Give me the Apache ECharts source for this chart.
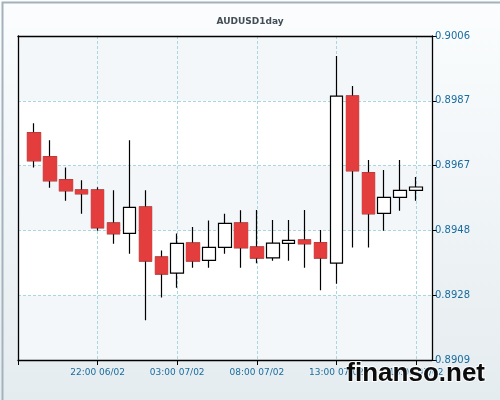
<!DOCTYPE html>
<html>
<head>
<meta charset="utf-8">
<script src="https://cdn.jsdelivr.net/npm/echarts@6/dist/echarts.min.js"></script>
<style>
  * { margin: 0; padding: 0; }
  #chart-container { width: 500px; height: 400px; }
</style>
</head>
<body>
<div id="chart-container"></div>
<script>
  var categories = [
    '17:00 06/02', '18:00 06/02', '19:00 06/02', '20:00 06/02', '21:00 06/02', '22:00 06/02', '23:00 06/02',
    '00:00 07/02', '01:00 07/02', '02:00 07/02', '03:00 07/02', '04:00 07/02', '05:00 07/02', '06:00 07/02',
    '07:00 07/02', '08:00 07/02', '09:00 07/02', '10:00 07/02', '11:00 07/02', '12:00 07/02', '13:00 07/02',
    '14:00 07/02', '15:00 07/02', '16:00 07/02', '17:00 07/02', '18:00 07/02', '19:00 07/02'
  ]
  var openValues = [null, 0.89770, 0.89698, 0.89629, 0.89599, 0.89599, 0.89500, 0.89469, 0.89548, 0.89398,
    0.89350, 0.89440, 0.89388, 0.89427, 0.89500, 0.89428, 0.89396, 0.89439, 0.89449, 0.89441,
    0.89380, 0.89880, 0.89650, 0.89529, 0.89577, 0.89598, null]
  var closeValues = [null, 0.89687, 0.89627, 0.89597, 0.89588, 0.89486, 0.89468, 0.89547, 0.89387, 0.89348,
    0.89439, 0.89387, 0.89427, 0.89499, 0.89426, 0.89396, 0.89440, 0.89448, 0.89438, 0.89396,
    0.89880, 0.89657, 0.89528, 0.89577, 0.89598, 0.89608, null]
  var lowValues = [null, 0.89666, 0.89606, 0.89567, 0.89528, 0.89477, 0.89438, 0.89408, 0.89209, 0.89277,
    0.89306, 0.89366, 0.89366, 0.89408, 0.89366, 0.89380, 0.89387, 0.89387, 0.89366, 0.89299,
    0.89318, 0.89427, 0.89427, 0.89477, 0.89537, 0.89567, null]
  var highValues = [null, 0.89799, 0.89748, 0.89666, 0.89628, 0.89607, 0.89598, 0.89748, 0.89598, 0.89418,
    0.89469, 0.89488, 0.89508, 0.89528, 0.89538, 0.89539, 0.89509, 0.89509, 0.89539, 0.89479,
    0.90000, 0.89910, 0.89689, 0.89659, 0.89689, 0.89638, null]
  var yTicks = [0.8909, 0.89284, 0.89478, 0.89672, 0.89866, 0.9006]
  var yInnerTicks = [0.89284, 0.89478, 0.89672, 0.89866]

  var candles = []
  var redBodies = []
  for (var i = 0; i < categories.length; i++) {
    if (openValues[i] == null) {
      candles.push('-')
      redBodies.push('-')
      continue
    }
    candles.push([openValues[i], closeValues[i], lowValues[i], highValues[i]])
    // red bodies drawn again on top so their outline is red, wicks stay black
    if (closeValues[i] < openValues[i]) {
      redBodies.push([openValues[i], closeValues[i], closeValues[i], openValues[i]])
    } else {
      redBodies.push('-')
    }
  }

  var gridColor = '#a9d6df'
  var labelColor = '#1a6c9f'
  var red = '#e33d3d'

  var myChart = echarts.init(document.getElementById('chart-container'), null, { renderer: 'canvas' })
  var option = {
    animation: false,
    backgroundColor: new echarts.graphic.LinearGradient(0, 0, 0, 1, [
      { offset: 0, color: '#fbfdfe' },
      { offset: 1, color: '#e5ecef' }
    ]),
    title: {
      text: 'AUDUSD1day',
      left: 'center',
      top: 12,
      textStyle: { fontFamily: 'DejaVu Sans', fontSize: 9, fontWeight: 'bold', color: '#444d57' }
    },
    grid: {
      left: 18, right: 68, top: 36, bottom: 40,
      show: true,
      backgroundColor: '#ffffff',
      borderWidth: 0
    },
    xAxis: [
      {
        type: 'category',
        data: categories,
        boundaryGap: false,
        axisLine: { lineStyle: { color: '#000', width: 1.3 } },
        axisTick: {
          length: 5,
          lineStyle: { color: '#000' },
          interval: function (index) { return index % 5 === 0 }
        },
        axisLabel: {
          margin: 8,
          color: labelColor,
          fontFamily: 'DejaVu Sans',
          fontSize: 9,
          interval: function (index) { return index % 5 === 0 && index > 0 && index < 26 }
        },
        splitLine: {
          show: true,
          interval: function (index) { return index % 5 === 0 && index > 0 },
          lineStyle: { color: gridColor, type: [3, 2] }
        }
      },
      {
        type: 'category',
        data: categories,
        position: 'top',
        boundaryGap: false,
        axisLine: { lineStyle: { color: '#000', width: 1.3 } },
        axisTick: { show: false },
        axisLabel: { show: false }
      }
    ],
    yAxis: [
      {
        type: 'value',
        position: 'right',
        min: 0.8909,
        max: 0.9006,
        axisLine: { show: true, lineStyle: { color: '#000', width: 1.3 } },
        axisTick: { show: true, length: 5, lineStyle: { color: '#000' }, customValues: yTicks },
        axisLabel: {
          margin: 3,
          color: labelColor,
          fontFamily: 'DejaVu Sans',
          fontSize: 10,
          customValues: yTicks,
          formatter: function (v) { return v.toFixed(4) }
        },
        splitLine: { show: true, customValues: yInnerTicks, lineStyle: { color: gridColor, type: [3, 2] } },
        splitArea: { show: true, customValues: yTicks, areaStyle: { color: ['#f3f7f9', '#ffffff'] } }
      },
      {
        type: 'value',
        position: 'left',
        min: 0.8909,
        max: 0.9006,
        axisLine: { show: true, lineStyle: { color: '#000', width: 1.3 } },
        axisTick: { show: false },
        axisLabel: { show: false },
        splitLine: { show: false }
      }
    ],
    series: [
      {
        type: 'candlestick',
        data: candles,
        barWidth: 13,
        itemStyle: {
          color: '#ffffff',
          color0: red,
          borderColor: '#000',
          borderColor0: '#000',
          borderWidth: 1.2
        }
      },
      {
        type: 'candlestick',
        data: redBodies,
        barWidth: 13,
        z: 3,
        itemStyle: {
          color: red,
          color0: red,
          borderColor: red,
          borderColor0: red,
          borderWidth: 1.2
        }
      }
    ],
    graphic: [
      {
        type: 'rect',
        left: 0, top: 0,
        shape: { width: 499, height: 399 },
        style: { fill: 'none', stroke: '#a3b2bc', lineWidth: 2 },
        silent: true
      },
      {
        type: 'text',
        right: 14,
        top: 360,
        z: 100,
        style: {
          text: 'finanso.net',
          font: 'bold 26px "Liberation Sans"',
          fill: '#0c0c0c',
          stroke: 'rgba(255,255,255,0.85)',
          lineWidth: 2
        }
      }
    ]
  }
  myChart.setOption(option)
  window.addEventListener('resize', myChart.resize)
</script>
</body>
</html>
